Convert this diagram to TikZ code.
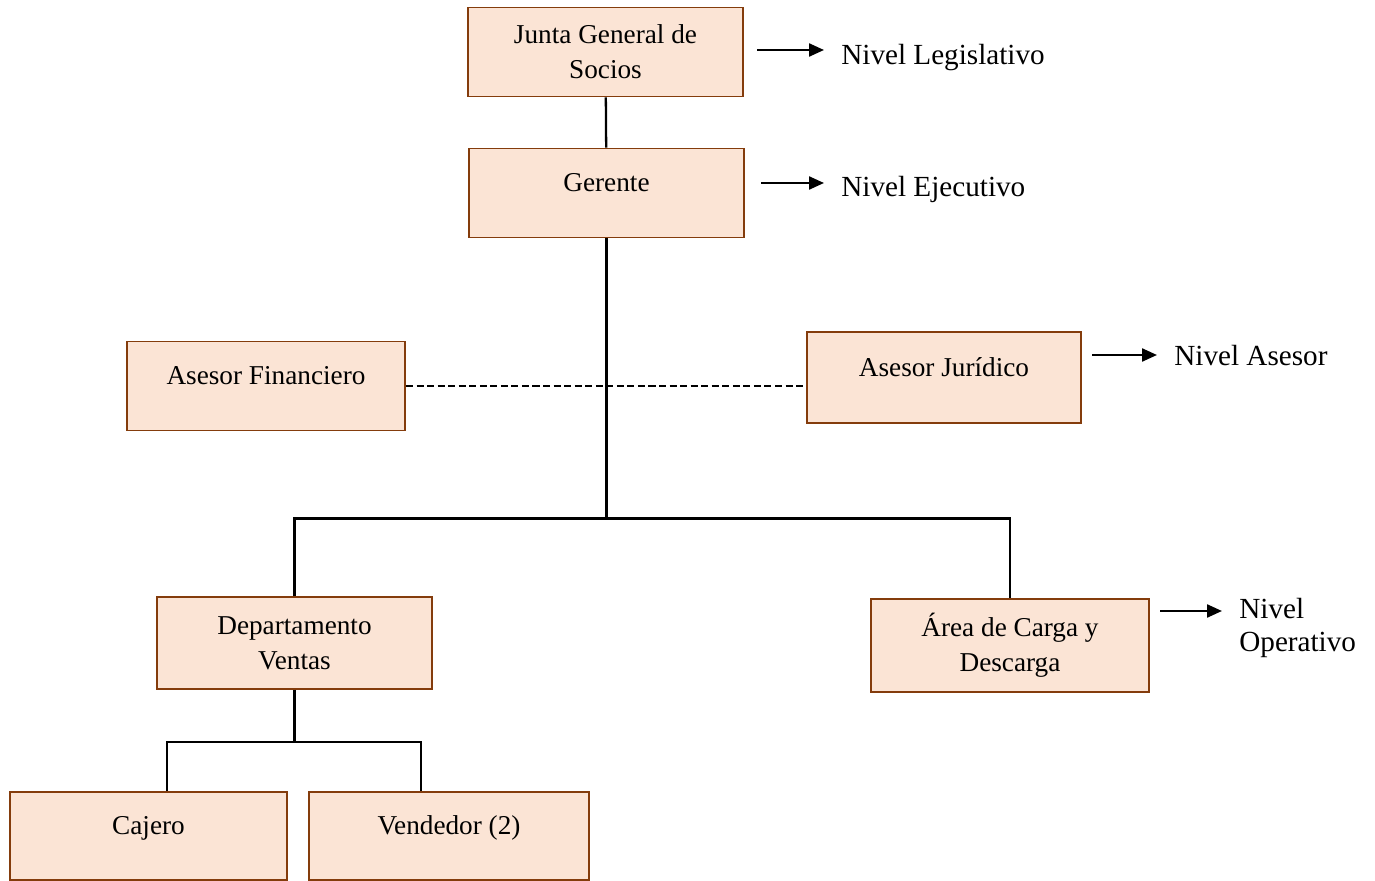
\documentclass[tikz,border=0pt]{standalone}
\usepackage{fontspec}
\setmainfont{Liberation Serif}
\usetikzlibrary{arrows.meta}

\definecolor{boxfill}{HTML}{FBE4D5}
\definecolor{boxline}{HTML}{843C0C}

\tikzset{
  orgbox/.style={draw=boxline, fill=boxfill, line width=1.1pt, align=center,
    minimum width=5.5cm, minimum height=1.78cm, inner sep=2pt,
    font=\fontsize{15.5}{19.9}\selectfont},
  link/.style={line width=1.3pt},
  level/.style={anchor=west, align=left, inner sep=0pt,
    font=\fontsize{16.6}{17.6}\selectfont},
  levelarrow/.style={line width=1.3pt, -{Triangle[length=3mm,width=2.6mm]}, shorten >=0.34cm}
}

\begin{document}
\begin{tikzpicture}

\useasboundingbox (0,0) rectangle (27.5,-17.62);

% boxes
\node(junta)[orgbox, yshift=-0.04cm, minimum height=1.78cm] at (12.11,-1.0) {Junta General de\\Socios};
\node(ger)[orgbox] at (12.13,-3.86) {Gerente\\[-0.28cm]~};
\node(fin)[orgbox, minimum width=5.56cm] at (5.32,-7.72) {Asesor Financiero\\[-0.28cm]~};
\node(jur)[orgbox, minimum width=5.48cm, minimum height=1.82cm] at (18.88,-7.55) {Asesor Jurídico\\[-0.28cm]~};
\node(dep)[orgbox, minimum height=1.84cm] at (5.89,-12.86) {Departamento\\Ventas};
\node(area)[orgbox, minimum width=5.56cm, minimum height=1.86cm] at (20.2,-12.91) {Área de Carga y\\Descarga};
\node(caj)[orgbox, minimum width=5.54cm, minimum height=1.76cm] at (2.97,-16.72) {Cajero\\[-0.28cm]~};
\node(ven)[orgbox, minimum width=5.6cm, minimum height=1.76cm] at (8.98,-16.72) {Vendedor (2)\\[-0.28cm]~};

% connectors
\draw[link] (junta) -- (ger);
\path (ger.south) ++(0,-5.6) coordinate (gb);
\draw[link] (ger.south) -- (gb);
\draw[link] (dep.north) |- (gb) -| (area.north);
\draw[link, dash pattern=on 4pt off 2pt] (fin.east) -- (fin.east -| jur.west);

\path (dep.south) ++(0,-1.04) coordinate (sb);
\coordinate (cj) at ([xshift=0.37cm]caj.north);
\coordinate (vd) at ([xshift=-0.56cm]ven.north);
\draw[link] (dep.south) -- (sb);
\draw[link] (cj) |- (sb) -| (vd);

% levels
\node(lleg)[level] at (16.82,-1.16) {Nivel Legislativo};
\node(leje)[level] at (16.82,-3.78) {Nivel Ejecutivo};
\node(lase)[level] at (23.48,-7.12) {Nivel Asesor};
\node(lope)[level] at (24.78,-12.56) {Nivel\\[0.05cm]Operativo};

\coordinate (aleg) at (15.14,-1.0);
\coordinate (aeje) at (15.22,-3.66);
\coordinate (aase) at (21.84,-7.1);
\coordinate (aope) at (23.2,-12.22);

\draw[levelarrow] (aleg) -- (aleg -| lleg.west);
\draw[levelarrow] (aeje) -- (aeje -| leje.west);
\draw[levelarrow] (aase) -- (aase -| lase.west);
\draw[levelarrow] (aope) -- (aope -| lope.west);

\end{tikzpicture}
\end{document}
